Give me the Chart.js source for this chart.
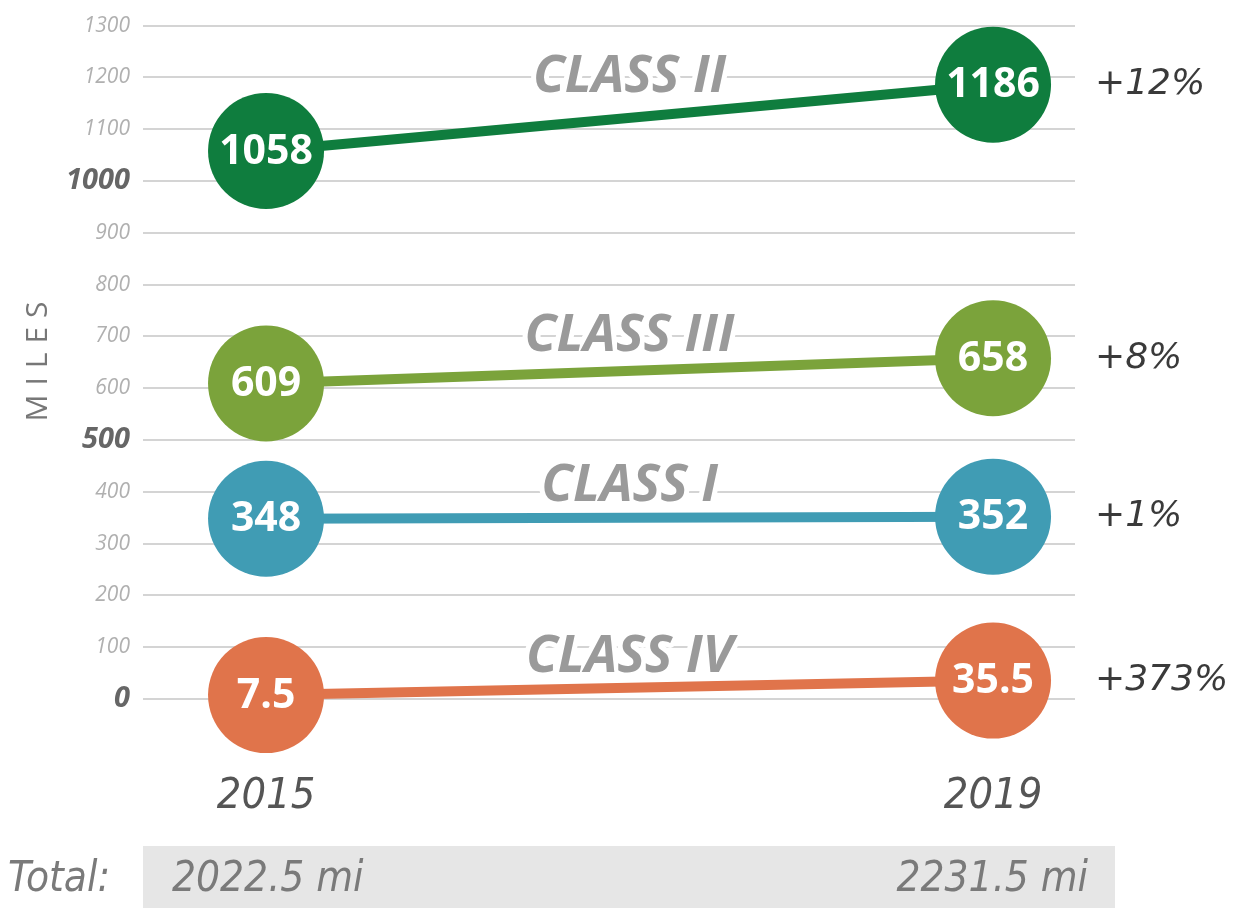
<!DOCTYPE html>
<html>
<head>
<meta charset="utf-8">
<script src="https://cdn.jsdelivr.net/npm/chart.js@4/dist/chart.umd.min.js"></script>
<style>
  html, body { margin: 0; padding: 0; background: #fff; }
  #wrap { position: relative; width: 1236px; height: 908px; overflow: hidden; }
  #chart { position: absolute; left: 0; top: 0; }
  .tot { position: absolute; font-family: 'Liberation Sans Narrow', 'DejaVu Sans Condensed', sans-serif; font-style: italic; font-size: 42px; color: #7a7a7a; line-height: 62px; top: 846px; }
  #totalBox { position: absolute; left: 143px; top: 846px; width: 972px; height: 62px; background: #e6e6e6; }
</style>
</head>
<body>
<div id="wrap">
  <canvas id="chart" width="1236" height="908"></canvas>
  <div id="totalBox"></div>
  <div class="tot" style="left:8px">Total:</div>
  <div class="tot" id="tot0" style="left:172px"></div>
  <div class="tot" id="tot1" style="right:148px"></div>
</div>
<script>
const years = [2015, 2019];
const classNames = ['CLASS II', 'CLASS III', 'CLASS I', 'CLASS IV'];
const class2 = [1058, 1186];
const class3 = [609, 658];
const class1 = [348, 352];
const class4 = [7.5, 35.5];
const changes = ['+12%', '+8%', '+1%', '+373%'];
const classLabelY = [1200, 700, 410, 80];
const classLabelX = 2017;
const totals = ['2022.5 mi', '2231.5 mi'];
const colors = ['#0f7d3e', '#7ba33b', '#409cb4', '#e0744b'];

const series = [class2, class3, class1, class4];

document.getElementById('tot0').textContent = totals[0];
document.getElementById('tot1').textContent = totals[1];

const labelsPlugin = {
  id: 'labels',
  beforeDatasetsDraw(chart) {
    const ctx = chart.ctx;
    const x = chart.scales.x, y = chart.scales.y;
    ctx.save();
    ctx.font = 'italic bold 52px "Open Sans", sans-serif';
    ctx.textAlign = 'center';
    ctx.textBaseline = 'middle';
    ctx.lineJoin = 'round';
    classNames.forEach((name, i) => {
      const px = x.getPixelForValue(classLabelX), py = y.getPixelForValue(classLabelY[i]);
      ctx.strokeStyle = '#fff';
      ctx.lineWidth = 10;
      ctx.strokeText(name, px, py);
      ctx.fillStyle = '#9a9a9a';
      ctx.fillText(name, px, py);
    });
    // axis title
    ctx.translate(38, 361);
    ctx.rotate(-Math.PI / 2);
    ctx.font = '30px "Open Sans", sans-serif';
    ctx.letterSpacing = '9px';
    ctx.fillStyle = '#777';
    ctx.fillText('MILES', 4, 0);
    ctx.restore();
  },
  afterDatasetsDraw(chart) {
    const ctx = chart.ctx;
    ctx.save();
    ctx.textBaseline = 'middle';
    chart.data.datasets.forEach((ds, i) => {
      const meta = chart.getDatasetMeta(i);
      ctx.font = 'bold 41px "Open Sans", sans-serif';
      ctx.textAlign = 'center';
      ctx.fillStyle = '#fff';
      meta.data.forEach((pt, j) => {
        ctx.fillText(String(ds.data[j].y), pt.x, pt.y + 1);
      });
      const last = meta.data[meta.data.length - 1];
      ctx.font = 'italic 36px "DejaVu Sans", sans-serif';
      ctx.textAlign = 'left';
      ctx.fillStyle = '#3a3a3a';
      ctx.fillText(changes[i], chart.chartArea.right + 20, last.y);
    });
    ctx.restore();
  }
};

new Chart(document.getElementById('chart').getContext('2d'), {
  type: 'line',
  data: {
    datasets: series.map((vals, i) => ({
      label: classNames[i],
      data: years.map((yr, j) => ({ x: yr, y: vals[j] })),
      borderColor: colors[i],
      backgroundColor: colors[i],
      pointBackgroundColor: colors[i],
      pointBorderWidth: 0,
      borderWidth: 10,
      pointRadius: 58,
      pointHoverRadius: 58,
      clip: false
    }))
  },
  options: {
    responsive: false,
    animation: false,
    events: [],
    layout: { autoPadding: false, padding: { top: 20, right: 161, left: 0, bottom: 0 } },
    plugins: { legend: { display: false }, tooltip: { enabled: false }, title: { display: false } },
    scales: {
      x: {
        type: 'linear',
        min: 2014.323,
        max: 2019.451,
        afterBuildTicks: s => { s.ticks = years.map(v => ({ value: v })); },
        afterFit: s => { s.height = 209; },
        grid: { display: false },
        border: { display: false },
        ticks: {
          padding: 64,
          color: '#555',
          font: { family: "'Liberation Sans Narrow', 'DejaVu Sans Condensed', sans-serif", size: 43, style: 'italic' },
          callback: v => String(v),
          maxRotation: 0
        }
      },
      y: {
        min: 0,
        max: 1300,
        afterFit: s => { s.width = 143; },
        grid: { color: '#d4d4d4', lineWidth: 2, drawTicks: false },
        border: { display: false },
        ticks: {
          stepSize: 100,
          padding: 13,
          callback: v => String(v),
          color: c => c.tick.value % 500 === 0 ? '#666' : '#b0b0b0',
          font: c => c.tick && c.tick.value % 500 === 0
            ? { family: '"Open Sans", sans-serif', size: 29, style: 'italic', weight: 'bold' }
            : { family: '"Open Sans", sans-serif', size: 21, style: 'italic' }
        }
      }
    }
  },
  plugins: [labelsPlugin]
});
</script>
</body>
</html>
